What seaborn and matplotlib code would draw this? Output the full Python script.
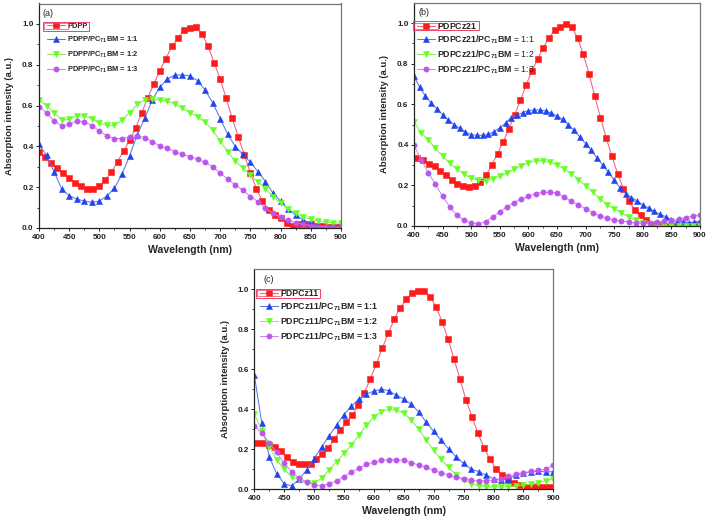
import numpy as np
import matplotlib
matplotlib.use("Agg")
import matplotlib.pyplot as plt
import seaborn as sns
from matplotlib.patches import Rectangle

# ---- data (absorption, a.u.) ----
# wavelength grids used by the instrument exports
wl_a_red = np.arange(400, 901, 10)
wl_b_red = np.arange(406, 897, 10)
wl_b_blue = np.arange(400, 901, 10)
wl_c_red = np.arange(404, 895, 10)
wl_step = np.linspace(400, 900, 41)

# (a) PDPP
a_pure = [0.372, 0.35, 0.32, 0.295, 0.27, 0.245, 0.22, 0.205, 0.193, 0.193,
          0.205, 0.237, 0.275, 0.325, 0.377, 0.43, 0.49, 0.565, 0.637, 0.705,
          0.77, 0.83, 0.89, 0.93, 0.97, 0.98, 0.985, 0.95, 0.89, 0.81,
          0.73, 0.635, 0.537, 0.445, 0.357, 0.27, 0.193, 0.13, 0.09, 0.063,
          0.047, 0.026, 0.011, 0.018, 0.018, 0.018, 0.011, 0.011, 0.007, 0.007, 0.005]
a_11 = [0.41, 0.356, 0.276, 0.191, 0.159, 0.142, 0.132, 0.126, 0.132, 0.157,
        0.195, 0.265, 0.353, 0.456, 0.537, 0.627, 0.69, 0.73, 0.75, 0.75,
        0.745, 0.722, 0.676, 0.614, 0.536, 0.459, 0.399, 0.361, 0.322, 0.276,
        0.227, 0.17, 0.131, 0.092, 0.064, 0.039, 0.023, 0.011, 0.01, 0.007, 0.005]
a_12 = [0.627, 0.60, 0.563, 0.529, 0.533, 0.55, 0.549, 0.536, 0.513, 0.503,
        0.503, 0.529, 0.565, 0.606, 0.627, 0.63, 0.627, 0.622, 0.608, 0.586,
        0.565, 0.546, 0.518, 0.48, 0.425, 0.373, 0.327, 0.294, 0.258, 0.227,
        0.191, 0.154, 0.121, 0.093, 0.072, 0.056, 0.042, 0.034, 0.029, 0.026, 0.023]
a_13 = [0.595, 0.565, 0.526, 0.5, 0.508, 0.525, 0.521, 0.502, 0.475, 0.451,
        0.438, 0.438, 0.448, 0.453, 0.443, 0.423, 0.402, 0.39, 0.374, 0.361,
        0.35, 0.337, 0.322, 0.30, 0.268, 0.24, 0.211, 0.186, 0.154, 0.129,
        0.096, 0.072, 0.052, 0.039, 0.026, 0.018, 0.011, 0.007, 0.005, 0.003, 0.003]

# (b) PDPCz21
b_pure = [0.333, 0.327, 0.307, 0.294, 0.271, 0.249, 0.228, 0.209, 0.197, 0.191,
          0.197, 0.217, 0.251, 0.301, 0.356, 0.415, 0.479, 0.548, 0.619, 0.694,
          0.764, 0.821, 0.878, 0.928, 0.964, 0.98, 0.997, 0.98, 0.926, 0.846,
          0.75, 0.639, 0.534, 0.435, 0.343, 0.258, 0.184, 0.122, 0.08, 0.052,
          0.028, 0.011, 0.003, 0.0, 0.002, 0.0, 0.0, 0.002, 0.003, 0.005]
b_11 = [0.737, 0.683, 0.64, 0.605, 0.577, 0.549, 0.522, 0.5, 0.481, 0.462,
        0.45, 0.447, 0.447, 0.451, 0.465, 0.484, 0.507, 0.534, 0.546, 0.559,
        0.568, 0.572, 0.571, 0.567, 0.556, 0.542, 0.525, 0.499, 0.471, 0.438,
        0.406, 0.373, 0.335, 0.3, 0.266, 0.225, 0.189, 0.16, 0.14, 0.124,
        0.104, 0.088, 0.072, 0.058, 0.046, 0.031, 0.021, 0.02, 0.017, 0.019, 0.026]
b_12 = [0.512, 0.459, 0.423, 0.382, 0.345, 0.309, 0.281, 0.256, 0.235, 0.226,
        0.222, 0.233, 0.245, 0.261, 0.279, 0.296, 0.312, 0.322, 0.322, 0.314,
        0.302, 0.282, 0.258, 0.228, 0.199, 0.167, 0.135, 0.105, 0.085, 0.066,
        0.044, 0.028, 0.016, 0.008, 0.003, 0.0, 0.0, 0.0, 0.0, 0.0, 0.0]
b_13 = [0.397, 0.327, 0.263, 0.205, 0.146, 0.094, 0.053, 0.028, 0.015, 0.011,
        0.021, 0.044, 0.069, 0.094, 0.115, 0.133, 0.146, 0.16, 0.166, 0.166,
        0.163, 0.143, 0.122, 0.103, 0.085, 0.066, 0.048, 0.039, 0.028, 0.025,
        0.02, 0.015, 0.015, 0.016, 0.02, 0.023, 0.028, 0.033, 0.041, 0.048, 0.056]

# (c) PDPCz11
c_pure = [0.232, 0.23, 0.22, 0.21, 0.19, 0.162, 0.137, 0.125, 0.124, 0.126,
          0.15, 0.175, 0.207, 0.25, 0.295, 0.335, 0.37, 0.42, 0.48, 0.552,
          0.625, 0.705, 0.78, 0.85, 0.908, 0.95, 0.98, 0.993, 0.99, 0.963,
          0.913, 0.838, 0.751, 0.65, 0.55, 0.446, 0.362, 0.279, 0.207, 0.149,
          0.1, 0.068, 0.045, 0.03, 0.018, 0.012, 0.01, 0.01, 0.01, 0.012]
c_11 = [0.571, 0.33, 0.162, 0.075, 0.027, 0.015, 0.05, 0.095, 0.152, 0.21,
        0.265, 0.32, 0.373, 0.414, 0.452, 0.476, 0.49, 0.5, 0.492, 0.47,
        0.45, 0.425, 0.385, 0.335, 0.288, 0.243, 0.2, 0.162, 0.128, 0.1,
        0.087, 0.07, 0.052, 0.045, 0.05, 0.07, 0.08, 0.085, 0.09, 0.085, 0.087]
c_12 = [0.376, 0.292, 0.212, 0.145, 0.098, 0.062, 0.045, 0.032, 0.032, 0.053,
        0.095, 0.137, 0.179, 0.22, 0.27, 0.32, 0.362, 0.387, 0.399, 0.396,
        0.38, 0.345, 0.3, 0.245, 0.193, 0.148, 0.108, 0.072, 0.043, 0.026,
        0.017, 0.012, 0.01, 0.01, 0.012, 0.015, 0.019, 0.024, 0.031, 0.042, 0.05]
c_13 = [0.316, 0.28, 0.232, 0.183, 0.13, 0.085, 0.055, 0.035, 0.022, 0.017,
        0.025, 0.04, 0.062, 0.085, 0.105, 0.123, 0.135, 0.143, 0.147, 0.147,
        0.143, 0.132, 0.12, 0.108, 0.093, 0.08, 0.07, 0.058, 0.05, 0.043,
        0.04, 0.042, 0.045, 0.05, 0.063, 0.075, 0.082, 0.088, 0.093, 0.1, 0.12]

# ---- style ----
sns.set_style("ticks")
plt.rcParams["font.family"] = ["Liberation Sans", "DejaVu Sans"]
plt.rcParams["mathtext.fontset"] = "custom"
plt.rcParams["mathtext.rm"] = "Liberation Sans:bold"
plt.rcParams["mathtext.bf"] = "Liberation Sans:bold"
plt.rcParams["mathtext.default"] = "bf"

# marker colour, line colour, marker
styles = [
    ("#ff1a1a", "#f2607a", "s"),
    ("#2244ee", "#5878e8", "^"),
    ("#66ff22", "#8ee860", "v"),
    ("#bb55ee", "#cc88ee", "o"),
]


def draw_panel(ax, tag, tag_x, xs, ys, labels, leg_xy, leg_size, leg_space,
               leg_hl, bold_legend=True):
    for x, y, lab, (mc, lc, mk) in zip(xs, ys, labels, styles):
        sns.lineplot(x=x, y=y, ax=ax, color=lc, lw=0.75, marker=mk,
                     markersize=3.8, markerfacecolor=mc, markeredgecolor=mc,
                     markeredgewidth=0.4, label=lab, legend=False)
    ax.set_xlim(400, 900)
    ax.set_ylim(0, 1.1)
    ax.set_xticks(np.arange(400, 901, 50))
    ax.set_xticks(np.arange(400, 901, 25), minor=True)
    ax.set_yticks(np.arange(0, 1.01, 0.2))
    ax.set_yticks(np.arange(0, 1.01, 0.1), minor=True)
    ax.yaxis.set_major_formatter(matplotlib.ticker.FormatStrFormatter("%.1f"))
    ax.tick_params(which="major", direction="out", length=2.5, width=0.7,
                   labelsize=5.8, pad=1.5, colors="#222222")
    ax.tick_params(which="minor", direction="out", length=1.4, width=0.6,
                   colors="#222222")
    for t in ax.get_xticklabels() + ax.get_yticklabels():
        t.set_fontweight("bold")
    for side in ["left", "bottom"]:
        ax.spines[side].set_color("#222222")
        ax.spines[side].set_linewidth(0.9)
    for side in ["top", "right"]:
        ax.spines[side].set_visible(True)
        ax.spines[side].set_color("#777777")
        ax.spines[side].set_linewidth(0.9)
    ax.set_xlabel("Wavelength (nm)", fontsize=7.6, fontweight="bold", labelpad=3)
    ax.set_ylabel("Absorption intensity (a.u.)", fontsize=6.8, fontweight="bold",
                  labelpad=5.5)
    ax.text(tag_x, 0.975, tag, transform=ax.transAxes, fontsize=6.5,
            va="top", ha="left")
    leg = ax.legend(loc="upper left", bbox_to_anchor=leg_xy, frameon=False,
                    prop={"size": leg_size,
                          "weight": "bold" if bold_legend else "normal"},
                    handlelength=leg_hl, handletextpad=0.25,
                    labelspacing=leg_space, borderpad=0, borderaxespad=0)
    return leg


fig = plt.figure(figsize=(7.09, 5.26), dpi=100)
W, H = 709, 526
ax_a = fig.add_axes([39 / W, 1 - 228 / H, 302 / W, 224.5 / H])
ax_b = fig.add_axes([414 / W, 1 - 226 / H, 286 / W, 223.3 / H])
ax_c = fig.add_axes([254.3 / W, 1 - 489 / H, 299 / W, 219.7 / H])

leg_a = draw_panel(ax_a, "(a)", 0.01, [wl_a_red, wl_step, wl_step, wl_step],
                   [a_pure, a_11, a_12, a_13],
                   ["PDPP", "PDPP/PC$_{71}$BM = 1:1", "PDPP/PC$_{71}$BM = 1:2",
                    "PDPP/PC$_{71}$BM = 1:3"], (0.027, 0.915), 5.4, 0.65, 2.4)
leg_b = draw_panel(ax_b, "(b)", 0.017, [wl_b_red, wl_b_blue, wl_step, wl_step],
                   [b_pure, b_11, b_12, b_13],
                   [r"$\mathbf{PDPCz21}$", r"$\mathbf{PDPCz21/PC_{71}BM}$ = 1:1",
                    r"$\mathbf{PDPCz21/PC_{71}BM}$ = 1:2",
                    r"$\mathbf{PDPCz21/PC_{71}BM}$ = 1:3"], (0.011, 0.92),
                   6.3, 0.3, 2.05, bold_legend=False)
leg_c = draw_panel(ax_c, "(c)", 0.03, [wl_c_red, wl_step, wl_step, wl_step],
                   [c_pure, c_11, c_12, c_13],
                   ["PDPCz11", "PDPCz11/PC$_{71}$BM = 1:1", "PDPCz11/PC$_{71}$BM = 1:2",
                    "PDPCz11/PC$_{71}$BM = 1:3"], (0.019, 0.912), 6.3, 0.3, 2.05)

# highlighted first legend entry (red frame as in the original export)
fig.canvas.draw()
renderer = fig.canvas.get_renderer()
inv = fig.transFigure.inverted()
for leg in [leg_a, leg_b, leg_c]:
    tb = leg.get_texts()[0].get_window_extent(renderer)
    hb = leg.legend_handles[0].get_window_extent(renderer)
    yc = 0.5 * (tb.y0 + tb.y1)
    x0, x1 = hb.x0 - 1.5, tb.x1 + 2
    y0, y1 = yc - 4.5, yc + 4.5
    (fx0, fy0), (fx1, fy1) = inv.transform([(x0, y0), (x1, y1)])
    fig.add_artist(Rectangle((fx0, fy0), fx1 - fx0, fy1 - fy0, fill=False,
                             edgecolor="#ee4466", lw=0.7, transform=fig.transFigure))
    (gx0, gy0), (gx1, gy1) = inv.transform([(hb.x0 - 0.5, yc - 3), (hb.x1 + 0.5, yc + 3)])
    fig.add_artist(Rectangle((gx0, gy0), gx1 - gx0, gy1 - gy0, fill=False,
                             edgecolor="#ee4466", lw=0.5, transform=fig.transFigure))

fig.savefig("out.png", dpi=100)
